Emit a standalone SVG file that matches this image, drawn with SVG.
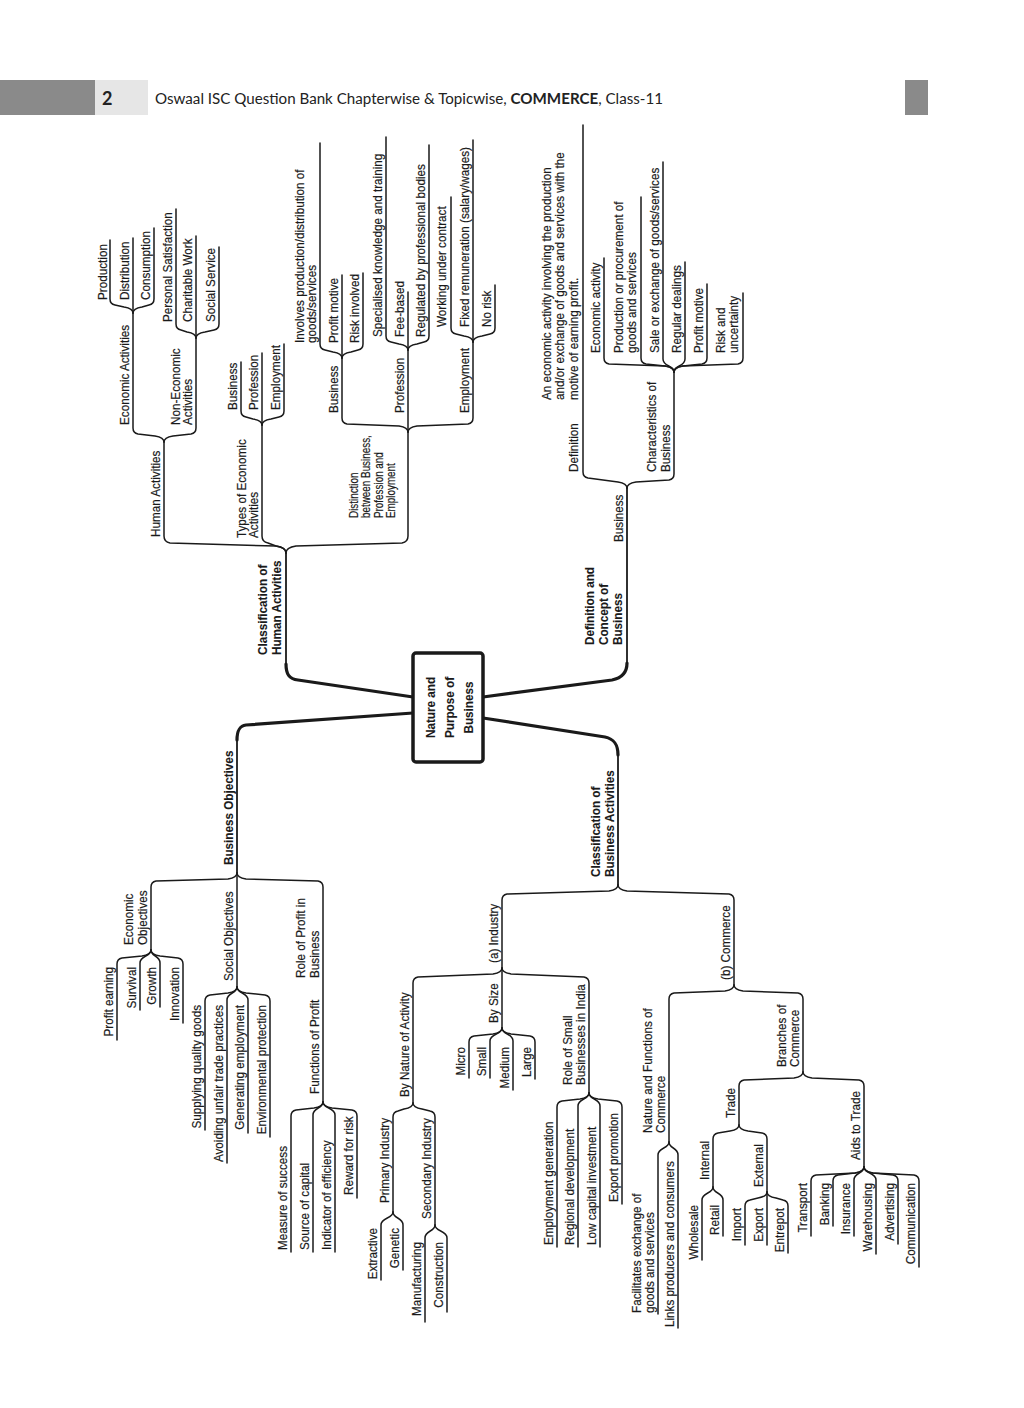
<svg xmlns="http://www.w3.org/2000/svg" width="1024" height="1408" viewBox="0 0 1024 1408">
<style>
.t{font-family:"Liberation Sans",Arial,sans-serif;font-size:13px;fill:#1a1a1a;stroke:#1a1a1a;stroke-width:0.2}
.b{font-weight:bold;stroke-width:0.1}
.e{text-anchor:end}
.c{fill:none;stroke:#1a1a1a;stroke-width:1.5;stroke-linejoin:round;stroke-linecap:round}
.m{stroke-width:1.8}
.k{stroke-width:3.2}
.h{font-family:Lato,"Open Sans",sans-serif;fill:#222}
</style>
<rect width="1024" height="1408" fill="#fff"/>
<g id="header">
<rect x="0" y="80" width="95" height="35" fill="#8a8a8a"/>
<rect x="95" y="80" width="53" height="35" fill="#e6e6e6"/>
<rect x="905" y="80" width="23" height="35" fill="#8a8a8a"/>
<text class="h" x="102" y="105" font-size="18" font-weight="bold">2</text>
<text class="h" x="155" y="104" font-size="14.5" textLength="508" lengthAdjust="spacingAndGlyphs">Oswaal ISC Question Bank Chapterwise &amp; Topicwise, <tspan font-weight="bold">COMMERCE</tspan>, Class-11</text>
</g>
<g id="connectors">
<path class="c k" d="M413 697 L298 680 C289 679 286 674 286 664"/>
<path class="c k" d="M413 713 L246 725 C239 726 237 731 237 740"/>
<path class="c k" d="M483 697 L612 680 C622 678 627 673 627 663"/>
<path class="c k" d="M483 718 L605 737 C614 739 618 744 618 755"/>
<path class="c m" d="M286 664 L286 553"/>
<path class="c m" d="M237 740 L237 873"/>
<path class="c m" d="M627 663 L627 488"/>
<path class="c m" d="M618 755 L618 885"/>
<!-- top-left tree -->
<path class="c" d="M286 553 C286 549 283 547 276 546 L170 543 Q164 542 164 536 L164 442"/>
<path class="c" d="M286 553 C286 549 283 547 276 546 L268 543 Q262 542 262 536 L262 425"/>
<path class="c" d="M286 553 C286 549 289 547 296 546 L402 543 Q408 542 408 536 L408 432"/>
<path class="c" d="M164 442 C164 439 161 437 155 436 L138 434 Q133 433 133 428 L133 313"/>
<path class="c" d="M164 442 C164 439 167 437 173 436 L191 434 Q196 433 196 428 L196 338"/>
<path class="c" d="M133 313 C133 310 130 308 124 307 L115 305 Q110 304 110 299 L110 240"/>
<path class="c" d="M133 313 L133 238"/>
<path class="c" d="M133 313 C133 310 136 308 142 307 L149 305 Q154 304 154 299 L154 228"/>
<path class="c" d="M196 338 C196 335 193 333 187 332 L181 330 Q176 329 176 324 L176 209"/>
<path class="c" d="M196 338 L196 236"/>
<path class="c" d="M196 338 C196 335 199 333 205 332 L214 330 Q219 329 219 324 L219 247"/>
<path class="c" d="M262 425 C262 422 259 420 253 419 L246 417 Q241 416 241 411 L241 362"/>
<path class="c" d="M262 425 L262 353"/>
<path class="c" d="M262 425 C262 422 265 420 271 419 L279 417 Q284 416 284 411 L284 344"/>
<path class="c" d="M408 432 C408 429 405 427 399 426 L347 424 Q342 423 342 418 L342 358"/>
<path class="c" d="M408 432 L408 350"/>
<path class="c" d="M408 432 C408 429 411 427 417 426 L468 424 Q473 423 473 418 L473 342"/>
<path class="c" d="M342 358 C342 355 339 353 333 352 L325 350 Q320 349 320 344 L320 143"/>
<path class="c" d="M342 358 L342 275"/>
<path class="c" d="M342 358 C342 355 345 353 351 352 L358 350 Q363 349 363 344 L363 273"/>
<path class="c" d="M408 350 C408 347 405 345 399 344 L391 342 Q386 341 386 336 L386 137"/>
<path class="c" d="M408 350 L408 292"/>
<path class="c" d="M408 350 C408 347 411 345 417 344 L424 342 Q429 341 429 336 L429 145"/>
<path class="c" d="M473 342 C473 339 470 337 464 336 L456 334 Q451 333 451 328 L451 197"/>
<path class="c" d="M473 342 L473 140"/>
<path class="c" d="M473 342 C473 339 476 337 482 336 L490 334 Q495 333 495 328 L495 285"/>
<!-- top-right tree -->
<path class="c" d="M627 488 C627 485 624 483 618 482 L588 478 Q583 477 583 472 L583 125"/>
<path class="c" d="M627 488 C627 485 630 483 636 482 L669 480 Q674 479 674 474 L674 372"/>
<path class="c" d="M674 372 C674 369 671 367 665 366 L609 364 Q604 363 604 358 L604 258"/>
<path class="c" d="M674 372 C674 369 671 367 665 366 L646 364 Q641 363 641 358 L641 197"/>
<path class="c" d="M674 372 C674 365 663 367 663 359 L663 162"/>
<path class="c" d="M674 372 C674 365 685 367 685 359 L685 262"/>
<path class="c" d="M674 372 C674 369 677 367 683 366 L702 364 Q707 363 707 358 L707 284"/>
<path class="c" d="M674 372 C674 369 677 367 683 366 L738 364 Q743 363 743 358 L743 293"/>
<!-- bottom-left tree -->
<path class="c" d="M237 873 C237 876 234 878 228 879 L156 881 Q151 882 151 887 L151 950"/>
<path class="c" d="M237 873 L237 987"/>
<path class="c" d="M237 873 C237 876 240 878 246 879 L318 881 Q323 882 323 887 L323 1102"/>
<path class="c" d="M151 950 C151 953 148 955 142 956 L122 958 Q117 959 117 964 L117 1040"/>
<path class="c" d="M151 950 C151 957 140 955 140 963 L140 1010"/>
<path class="c" d="M151 950 C151 957 160 955 160 963 L160 1007"/>
<path class="c" d="M151 950 C151 953 154 955 160 956 L178 958 Q183 959 183 964 L183 1023"/>
<path class="c" d="M237 987 C237 990 234 992 228 993 L210 995 Q205 996 205 1001 L205 1130"/>
<path class="c" d="M237 987 C237 994 227 992 227 1000 L227 1163"/>
<path class="c" d="M237 987 C237 994 248 992 248 1000 L248 1133"/>
<path class="c" d="M237 987 C237 990 240 992 246 993 L265 995 Q270 996 270 1001 L270 1137"/>
<path class="c" d="M323 1102 C323 1105 320 1107 314 1108 L296 1110 Q291 1111 291 1116 L291 1252"/>
<path class="c" d="M323 1102 C323 1109 313 1107 313 1115 L313 1252"/>
<path class="c" d="M323 1102 C323 1109 335 1107 335 1115 L335 1252"/>
<path class="c" d="M323 1102 C323 1105 326 1107 332 1108 L352 1110 Q357 1111 357 1116 L357 1198"/>
<!-- bottom-right tree -->
<path class="c" d="M618 885 C618 888 615 890 609 891 L507 894 Q502 895 502 900 L502 968"/>
<path class="c" d="M618 885 C618 888 621 890 627 891 L729 894 Q734 895 734 900 L734 985"/>
<path class="c" d="M502 968 C502 971 499 973 493 974 L418 977 Q413 978 413 983 L413 1103"/>
<path class="c" d="M502 968 L502 1028"/>
<path class="c" d="M502 968 C502 971 505 973 511 974 L584 977 Q589 978 589 983 L589 1093"/>
<path class="c" d="M502 1028 C502 1031 499 1033 493 1034 L474 1036 Q469 1037 469 1042 L469 1078"/>
<path class="c" d="M502 1028 C502 1035 490 1033 490 1041 L490 1078"/>
<path class="c" d="M502 1028 C502 1035 513 1033 513 1041 L513 1090"/>
<path class="c" d="M502 1028 C502 1031 505 1033 511 1034 L530 1036 Q535 1037 535 1042 L535 1079"/>
<path class="c" d="M589 1093 C589 1096 586 1098 580 1099 L562 1101 Q557 1102 557 1107 L557 1247"/>
<path class="c" d="M589 1093 C589 1100 578 1098 578 1106 L578 1247"/>
<path class="c" d="M589 1093 C589 1100 600 1098 600 1106 L600 1247"/>
<path class="c" d="M589 1093 C589 1096 592 1098 598 1099 L617 1101 Q622 1102 622 1107 L622 1204"/>
<path class="c" d="M413 1103 C413 1106 410 1108 404 1109 L398 1111 Q393 1112 393 1117 L393 1212"/>
<path class="c" d="M413 1103 C413 1106 416 1108 422 1109 L430 1111 Q435 1112 435 1117 L435 1225"/>
<path class="c" d="M393 1212 C393 1219 381 1217 381 1225 L381 1280"/>
<path class="c" d="M393 1212 C393 1219 403 1217 403 1225 L403 1270"/>
<path class="c" d="M435 1225 C435 1232 425 1230 425 1238 L425 1322"/>
<path class="c" d="M435 1225 C435 1232 447 1230 447 1238 L447 1312"/>
<path class="c" d="M734 985 C734 988 731 990 725 991 L674 993 Q669 994 669 999 L669 1142"/>
<path class="c" d="M734 985 C734 988 737 990 743 991 L798 993 Q803 994 803 999 L803 1072"/>
<path class="c" d="M669 1142 C669 1149 658 1147 658 1155 L658 1314"/>
<path class="c" d="M669 1142 C669 1149 678 1147 678 1155 L678 1328"/>
<path class="c" d="M803 1072 C803 1075 800 1077 794 1078 L744 1080 Q739 1081 739 1086 L739 1125"/>
<path class="c" d="M803 1072 C803 1075 806 1077 812 1078 L859 1080 Q864 1081 864 1086 L864 1167"/>
<path class="c" d="M739 1125 C739 1128 736 1130 730 1131 L718 1133 Q713 1134 713 1139 L713 1187"/>
<path class="c" d="M739 1125 C739 1128 742 1130 748 1131 L762 1133 Q767 1134 767 1139 L767 1192"/>
<path class="c" d="M713 1187 C713 1194 702 1192 702 1200 L702 1260"/>
<path class="c" d="M713 1187 C713 1194 723 1192 723 1200 L723 1236"/>
<path class="c" d="M767 1192 C767 1195 764 1197 758 1198 L750 1200 Q745 1201 745 1206 L745 1245"/>
<path class="c" d="M767 1192 L767 1245"/>
<path class="c" d="M767 1192 C767 1195 770 1197 776 1198 L783 1200 Q788 1201 788 1206 L788 1253"/>
<path class="c" d="M864 1167 C864 1170 861 1172 855 1173 L816 1175 Q811 1176 811 1181 L811 1236"/>
<path class="c" d="M864 1167 C864 1170 861 1172 855 1173 L838 1175 Q833 1176 833 1181 L833 1226"/>
<path class="c" d="M864 1167 C864 1174 854 1172 854 1180 L854 1236"/>
<path class="c" d="M864 1167 C864 1174 876 1172 876 1180 L876 1254"/>
<path class="c" d="M864 1167 C864 1170 867 1172 873 1173 L893 1175 Q898 1176 898 1181 L898 1244"/>
<path class="c" d="M864 1167 C864 1170 867 1172 873 1173 L914 1175 Q919 1176 919 1181 L919 1267"/>
</g>
<g id="n-center">
<rect x="413" y="653" width="70" height="109" rx="3" fill="#fff" stroke="#1a1a1a" stroke-width="3.5"/>
<text class="t b" font-size="16.5" text-anchor="middle" transform="translate(435 707.5) rotate(-90) scale(0.9 1)"><tspan x="0">Nature and</tspan><tspan x="0" dy="19">Purpose of</tspan><tspan x="0" dy="19">Business</tspan></text>
</g>
<!-- top-left tree nodes -->
<g id="n-class-human"><text class="t b" transform="translate(267 655) rotate(-90) scale(0.9 1)"><tspan x="0">Classification of</tspan><tspan x="0" dy="14">Human Activities</tspan></text></g>
<g id="n-human-activities"><text class="t" transform="translate(160 537) rotate(-90) scale(0.9 1)">Human Activities</text></g>
<g id="n-economic-activities"><text class="t" transform="translate(129 425) rotate(-90) scale(0.9 1)">Economic Activities</text></g>
<g id="n-production"><text class="t" transform="translate(106.5 300) rotate(-90) scale(0.9 1)">Production</text></g>
<g id="n-distribution"><text class="t" transform="translate(129 300) rotate(-90) scale(0.9 1)">Distribution</text></g>
<g id="n-consumption"><text class="t" transform="translate(150 300) rotate(-90) scale(0.9 1)">Consumption</text></g>
<g id="n-non-economic"><text class="t" transform="translate(179.5 425) rotate(-90) scale(0.9 1)"><tspan x="0">Non-Economic</tspan><tspan x="0" dy="12.5">Activities</tspan></text></g>
<g id="n-personal"><text class="t" transform="translate(172 322) rotate(-90) scale(0.9 1)">Personal Satisfaction</text></g>
<g id="n-charitable"><text class="t" transform="translate(192 322) rotate(-90) scale(0.9 1)">Charitable Work</text></g>
<g id="n-social-service"><text class="t" transform="translate(215 322) rotate(-90) scale(0.9 1)">Social Service</text></g>
<g id="n-types"><text class="t" transform="translate(245.5 538) rotate(-90) scale(0.9 1)"><tspan x="0">Types of Economic</tspan><tspan x="0" dy="12.5">Activities</tspan></text></g>
<g id="n-t-business"><text class="t" transform="translate(237 410) rotate(-90) scale(0.9 1)">Business</text></g>
<g id="n-t-profession"><text class="t" transform="translate(258 410) rotate(-90) scale(0.9 1)">Profession</text></g>
<g id="n-t-employment"><text class="t" transform="translate(280 410) rotate(-90) scale(0.9 1)">Employment</text></g>
<g id="n-distinction"><text class="t" transform="translate(358 518) rotate(-90) scale(0.76 1)"><tspan x="0">Distinction</tspan><tspan x="0" dy="12.5">between Business,</tspan><tspan x="0" dy="12.5">Profession and</tspan><tspan x="0" dy="12.5">Employment</tspan></text></g>
<g id="n-d-business"><text class="t" transform="translate(338 413) rotate(-90) scale(0.9 1)">Business</text></g>
<g id="n-involves"><text class="t" transform="translate(303.5 343) rotate(-90) scale(0.9 1)"><tspan x="0">Involves production/distribution of</tspan><tspan x="0" dy="12.5">goods/services</tspan></text></g>
<g id="n-profit-motive-1"><text class="t" transform="translate(338 343) rotate(-90) scale(0.9 1)">Profit motive</text></g>
<g id="n-risk-involved"><text class="t" transform="translate(359 343) rotate(-90) scale(0.9 1)">Risk involved</text></g>
<g id="n-d-profession"><text class="t" transform="translate(404 413) rotate(-90) scale(0.9 1)">Profession</text></g>
<g id="n-specialised"><text class="t" transform="translate(382 337) rotate(-90) scale(0.9 1)">Specialised knowledge and training</text></g>
<g id="n-fee-based"><text class="t" transform="translate(404 337) rotate(-90) scale(0.9 1)">Fee-based</text></g>
<g id="n-regulated"><text class="t" transform="translate(425 337) rotate(-90) scale(0.9 1)">Regulated by professional bodies</text></g>
<g id="n-d-employment"><text class="t" transform="translate(469 413) rotate(-90) scale(0.9 1)">Employment</text></g>
<g id="n-working"><text class="t" transform="translate(446 327) rotate(-90) scale(0.9 1)">Working under contract</text></g>
<g id="n-fixed"><text class="t" transform="translate(469 327) rotate(-90) scale(0.9 1)">Fixed remuneration (salary/wages)</text></g>
<g id="n-no-risk"><text class="t" transform="translate(491 327) rotate(-90) scale(0.9 1)">No risk</text></g>
<!-- top-right tree nodes -->
<g id="n-def-concept"><text class="t b" transform="translate(594 645) rotate(-90) scale(0.9 1)"><tspan x="0">Definition and</tspan><tspan x="0" dy="14">Concept of</tspan><tspan x="0" dy="14">Business</tspan></text></g>
<g id="n-business"><text class="t" transform="translate(623 542) rotate(-90) scale(0.9 1)">Business</text></g>
<g id="n-definition"><text class="t" transform="translate(578 472) rotate(-90) scale(0.9 1)">Definition</text></g>
<g id="n-def-text"><text class="t" transform="translate(551 400) rotate(-90) scale(0.9 1)"><tspan x="0">An economic activity involving the production</tspan><tspan x="0" dy="13.5">and/or exchange of goods and services with the</tspan><tspan x="0" dy="13.5">motive of earning profit.</tspan></text></g>
<g id="n-characteristics"><text class="t" transform="translate(656 472) rotate(-90) scale(0.9 1)"><tspan x="0">Characteristics of</tspan><tspan x="0" dy="14">Business</tspan></text></g>
<g id="n-c-economic"><text class="t" transform="translate(600 353) rotate(-90) scale(0.9 1)">Economic activity</text></g>
<g id="n-c-production"><text class="t" transform="translate(623 353) rotate(-90) scale(0.9 1)"><tspan x="0">Production or procurement of</tspan><tspan x="0" dy="13.5">goods and services</tspan></text></g>
<g id="n-c-sale"><text class="t" transform="translate(659 353) rotate(-90) scale(0.9 1)">Sale or exchange of goods/services</text></g>
<g id="n-c-regular"><text class="t" transform="translate(681 353) rotate(-90) scale(0.9 1)">Regular dealings</text></g>
<g id="n-c-profit"><text class="t" transform="translate(703 353) rotate(-90) scale(0.9 1)">Profit motive</text></g>
<g id="n-c-risk"><text class="t" transform="translate(725 353) rotate(-90) scale(0.9 1)"><tspan x="0">Risk and</tspan><tspan x="0" dy="13.5">uncertainty</tspan></text></g>
<!-- bottom-left tree nodes -->
<g id="n-business-objectives"><text class="t b" transform="translate(233 865) rotate(-90) scale(0.9 1)">Business Objectives</text></g>
<g id="n-economic-objectives"><text class="t" transform="translate(133 945) rotate(-90) scale(0.9 1)"><tspan x="0">Economic</tspan><tspan x="0" dy="14">Objectives</tspan></text></g>
<g id="n-profit-earning"><text class="t e" transform="translate(113 967) rotate(-90) scale(0.9 1)">Profit earning</text></g>
<g id="n-survival"><text class="t e" transform="translate(136 967) rotate(-90) scale(0.9 1)">Survival</text></g>
<g id="n-growth"><text class="t e" transform="translate(156 967) rotate(-90) scale(0.9 1)">Growth</text></g>
<g id="n-innovation"><text class="t e" transform="translate(179 967) rotate(-90) scale(0.9 1)">Innovation</text></g>
<g id="n-social-objectives"><text class="t" transform="translate(233 981) rotate(-90) scale(0.9 1)">Social Objectives</text></g>
<g id="n-supplying"><text class="t e" transform="translate(201 1005) rotate(-90) scale(0.9 1)">Supplying quality goods</text></g>
<g id="n-avoiding"><text class="t e" transform="translate(223 1005) rotate(-90) scale(0.9 1)">Avoiding unfair trade practices</text></g>
<g id="n-generating"><text class="t e" transform="translate(244 1005) rotate(-90) scale(0.9 1)">Generating employment</text></g>
<g id="n-environmental"><text class="t e" transform="translate(266 1005) rotate(-90) scale(0.9 1)">Environmental protection</text></g>
<g id="n-role-profit"><text class="t" transform="translate(305 978) rotate(-90) scale(0.9 1)"><tspan x="0">Role of Profit in</tspan><tspan x="0" dy="14">Business</tspan></text></g>
<g id="n-functions"><text class="t" transform="translate(319 1094) rotate(-90) scale(0.9 1)">Functions of Profit</text></g>
<g id="n-measure"><text class="t" transform="translate(287 1250) rotate(-90) scale(0.9 1)">Measure of success</text></g>
<g id="n-source"><text class="t" transform="translate(309 1250) rotate(-90) scale(0.9 1)">Source of capital</text></g>
<g id="n-indicator"><text class="t" transform="translate(331 1250) rotate(-90) scale(0.9 1)">Indicator of efficiency</text></g>
<g id="n-reward"><text class="t" transform="translate(353 1195) rotate(-90) scale(0.9 1)">Reward for risk</text></g>
<!-- bottom-right tree nodes -->
<g id="n-class-business"><text class="t b" transform="translate(600 877) rotate(-90) scale(0.9 1)"><tspan x="0">Classification of</tspan><tspan x="0" dy="14">Business Activities</tspan></text></g>
<g id="n-industry"><text class="t" transform="translate(498 963) rotate(-90) scale(0.9 1)">(a) Industry</text></g>
<g id="n-by-nature"><text class="t" transform="translate(409 1097) rotate(-90) scale(0.9 1)">By Nature of Activity</text></g>
<g id="n-primary"><text class="t" transform="translate(389 1203) rotate(-90) scale(0.9 1)">Primary Industry</text></g>
<g id="n-extractive"><text class="t e" transform="translate(377 1228) rotate(-90) scale(0.9 1)">Extractive</text></g>
<g id="n-genetic"><text class="t e" transform="translate(399 1228) rotate(-90) scale(0.9 1)">Genetic</text></g>
<g id="n-secondary"><text class="t" transform="translate(431 1219) rotate(-90) scale(0.9 1)">Secondary Industry</text></g>
<g id="n-manufacturing"><text class="t e" transform="translate(421 1242) rotate(-90) scale(0.9 1)">Manufacturing</text></g>
<g id="n-construction"><text class="t e" transform="translate(443 1242) rotate(-90) scale(0.9 1)">Construction</text></g>
<g id="n-by-size"><text class="t" transform="translate(498 1023) rotate(-90) scale(0.9 1)">By Size</text></g>
<g id="n-micro"><text class="t e" transform="translate(465 1047) rotate(-90) scale(0.9 1)">Micro</text></g>
<g id="n-small"><text class="t e" transform="translate(486 1047) rotate(-90) scale(0.9 1)">Small</text></g>
<g id="n-medium"><text class="t e" transform="translate(509 1047) rotate(-90) scale(0.9 1)">Medium</text></g>
<g id="n-large"><text class="t e" transform="translate(531 1047) rotate(-90) scale(0.9 1)">Large</text></g>
<g id="n-role-small"><text class="t" transform="translate(572 1085) rotate(-90) scale(0.9 1)"><tspan x="0">Role of Small</tspan><tspan x="0" dy="13.5">Businesses in India</tspan></text></g>
<g id="n-employment-gen"><text class="t" transform="translate(553 1245) rotate(-90) scale(0.9 1)">Employment generation</text></g>
<g id="n-regional"><text class="t" transform="translate(574 1245) rotate(-90) scale(0.9 1)">Regional development</text></g>
<g id="n-low-capital"><text class="t" transform="translate(596 1245) rotate(-90) scale(0.9 1)">Low capital investment</text></g>
<g id="n-export-promotion"><text class="t" transform="translate(618 1202) rotate(-90) scale(0.9 1)">Export promotion</text></g>
<g id="n-commerce"><text class="t" transform="translate(730 980) rotate(-90) scale(0.9 1)">(b) Commerce</text></g>
<g id="n-nature-functions"><text class="t" transform="translate(652 1133) rotate(-90) scale(0.9 1)"><tspan x="0">Nature and Functions of</tspan><tspan x="0" dy="13">Commerce</tspan></text></g>
<g id="n-facilitates"><text class="t" transform="translate(641 1313) rotate(-90) scale(0.9 1)"><tspan x="0">Facilitates exchange of</tspan><tspan x="0" dy="13">goods and services</tspan></text></g>
<g id="n-links"><text class="t" transform="translate(674 1327) rotate(-90) scale(0.9 1)">Links producers and consumers</text></g>
<g id="n-branches"><text class="t" transform="translate(786 1067) rotate(-90) scale(0.9 1)"><tspan x="0">Branches of</tspan><tspan x="0" dy="13">Commerce</tspan></text></g>
<g id="n-trade"><text class="t" transform="translate(735 1118) rotate(-90) scale(0.9 1)">Trade</text></g>
<g id="n-internal"><text class="t" transform="translate(709 1180) rotate(-90) scale(0.9 1)">Internal</text></g>
<g id="n-wholesale"><text class="t e" transform="translate(698 1205) rotate(-90) scale(0.9 1)">Wholesale</text></g>
<g id="n-retail"><text class="t e" transform="translate(719 1205) rotate(-90) scale(0.9 1)">Retail</text></g>
<g id="n-external"><text class="t" transform="translate(763 1187) rotate(-90) scale(0.9 1)">External</text></g>
<g id="n-import"><text class="t e" transform="translate(741 1208) rotate(-90) scale(0.9 1)">Import</text></g>
<g id="n-export"><text class="t e" transform="translate(763 1208) rotate(-90) scale(0.9 1)">Export</text></g>
<g id="n-entrepot"><text class="t e" transform="translate(784 1208) rotate(-90) scale(0.9 1)">Entrepot</text></g>
<g id="n-aids"><text class="t" transform="translate(860 1160) rotate(-90) scale(0.9 1)">Aids to Trade</text></g>
<g id="n-transport"><text class="t e" transform="translate(807 1183) rotate(-90) scale(0.9 1)">Transport</text></g>
<g id="n-banking"><text class="t e" transform="translate(829 1183) rotate(-90) scale(0.9 1)">Banking</text></g>
<g id="n-insurance"><text class="t e" transform="translate(850 1183) rotate(-90) scale(0.9 1)">Insurance</text></g>
<g id="n-warehousing"><text class="t e" transform="translate(872 1183) rotate(-90) scale(0.9 1)">Warehousing</text></g>
<g id="n-advertising"><text class="t e" transform="translate(894 1183) rotate(-90) scale(0.9 1)">Advertising</text></g>
<g id="n-communication"><text class="t e" transform="translate(915 1183) rotate(-90) scale(0.9 1)">Communication</text></g>
</svg>
